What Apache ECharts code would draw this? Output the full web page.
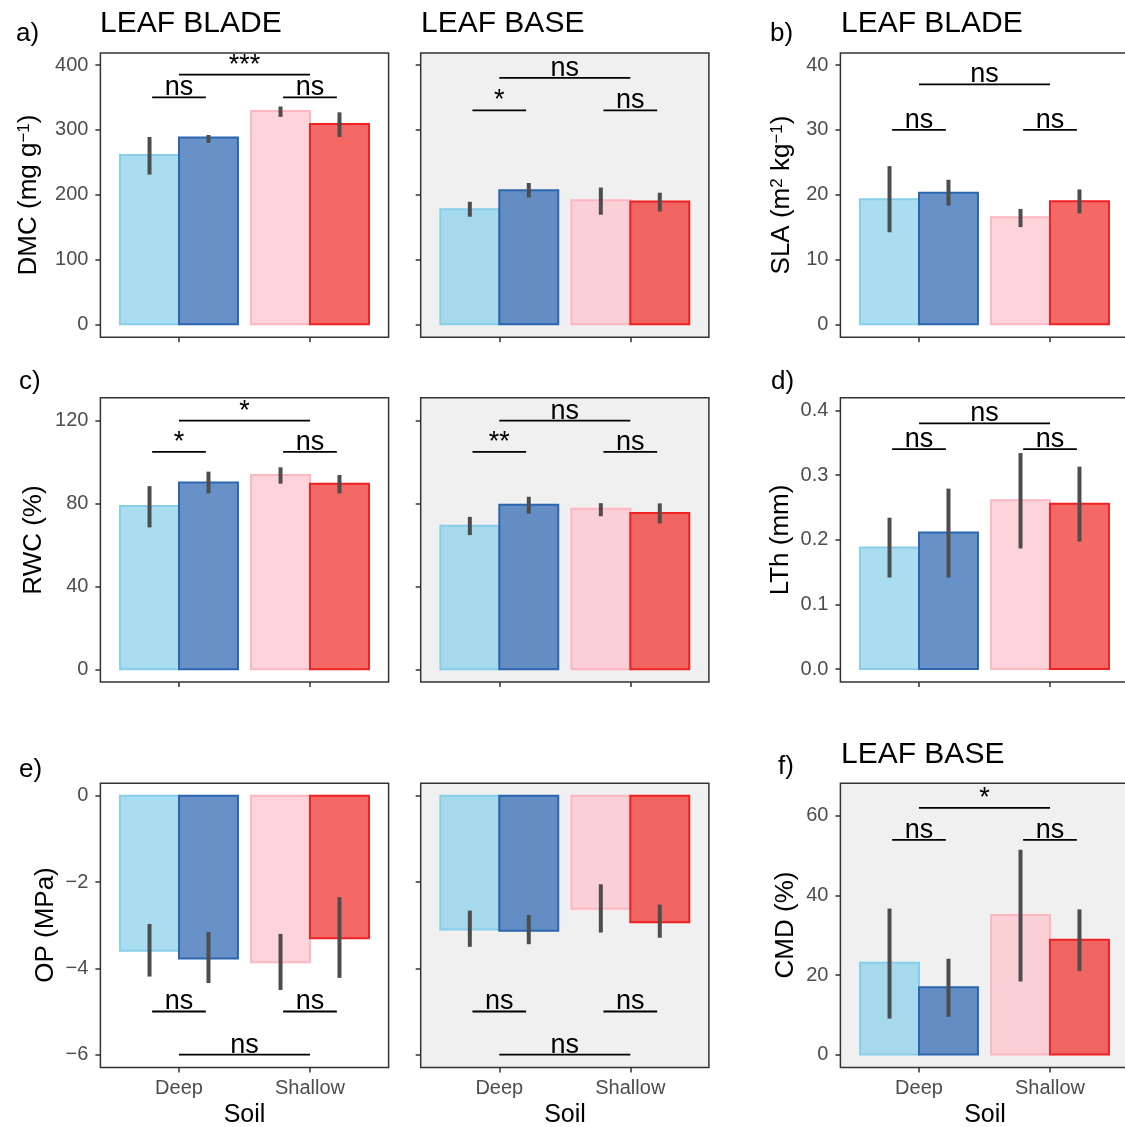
<!DOCTYPE html>
<html>
<head>
<meta charset="utf-8">
<script src="https://cdn.jsdelivr.net/npm/echarts@6/dist/echarts.min.js"></script>
<style>
  html, body { margin: 0; padding: 0; background: #fff; overflow: hidden; }
  #main { width: 1135px; height: 1127px; }
</style>
</head>
<body>
<div id="main"></div>
<script>
// bar order in every panel: Deep light, Deep dark, Shallow light, Shallow dark
var soils = ['Deep', 'Shallow'];

var dmcBladeMean = [261, 288, 329, 309];
var dmcBladeLow  = [231, 280, 320, 289];
var dmcBladeHigh = [289, 292, 336, 327];
var dmcBladeSig  = ['ns', 'ns', '***'];
var dmcBladeSigY = [350, 385];

var dmcBaseMean = [177.6, 207, 191.5, 189.5];
var dmcBaseLow  = [166, 195.5, 169, 174];
var dmcBaseHigh = [189, 218, 211, 203];
var dmcBaseSig  = ['*', 'ns', 'ns'];
var dmcBaseSigY = [330, 380];

var slaMean = [19.3, 20.3, 16.5, 19.0];
var slaLow  = [14.2, 18.3, 15.0, 17.1];
var slaHigh = [24.4, 22.3, 17.8, 20.8];
var slaSig  = ['ns', 'ns', 'ns'];
var slaSigY = [30, 37];

var rwcBladeMean = [78.8, 90.2, 93.8, 89.6];
var rwcBladeLow  = [68.5, 84.9, 89.6, 84.9];
var rwcBladeHigh = [88.4, 95.4, 97.5, 93.8];
var rwcBladeSig  = ['*', 'ns', '*'];
var rwcBladeSigY = [105, 120];

var rwcBaseMean = [69.3, 79.4, 77.5, 75.4];
var rwcBaseLow  = [64.8, 75.1, 73.9, 70.4];
var rwcBaseHigh = [73.6, 83.3, 80.2, 80.1];
var rwcBaseSig  = ['**', 'ns', 'ns'];
var rwcBaseSigY = [105, 120];

var lthMean = [0.188, 0.211, 0.261, 0.2555];
var lthLow  = [0.1415, 0.1415, 0.1864, 0.197];
var lthHigh = [0.234, 0.279, 0.334, 0.313];
var lthSig  = ['ns', 'ns', 'ns'];
var lthSigY = [0.34, 0.38];

var opBladeMean = [-3.59, -3.77, -3.86, -3.30];
var opBladeLow  = [-4.19, -4.34, -4.50, -4.22];
var opBladeHigh = [-2.97, -3.16, -3.20, -2.35];
var opBladeSig  = ['ns', 'ns', 'ns'];
var opBladeSigY = [-5, -6];

var opBaseMean = [-3.10, -3.13, -2.62, -2.93];
var opBaseLow  = [-3.50, -3.44, -3.17, -3.29];
var opBaseHigh = [-2.66, -2.76, -2.05, -2.52];
var opBaseSig  = ['ns', 'ns', 'ns'];
var opBaseSigY = [-5, -6];

var cmdMean = [23.1, 16.9, 35.1, 28.9];
var cmdLow  = [9.05, 9.5, 18.4, 21.0];
var cmdHigh = [36.7, 24.1, 51.5, 36.5];
var cmdSig  = ['ns', 'ns', '*'];
var cmdSigY = [54, 62];

var dmcTicks = [0, 100, 200, 300, 400];
var slaTicks = [0, 10, 20, 30, 40];
var rwcTicks = [0, 40, 80, 120];
var lthTicks = [0, 0.1, 0.2, 0.3, 0.4];
var opTicks  = [-6, -4, -2, 0];
var cmdTicks = [0, 20, 40, 60];

var FONT = 'Liberation Sans, Arial, Helvetica, sans-serif';
var fills   = ['rgba(135,206,235,0.7)', 'rgba(40,100,175,0.7)', 'rgba(255,192,203,0.7)', 'rgba(240,40,35,0.7)'];
var strokes = ['#87CEEB', '#2B66B0', '#FFB6C1', '#EE2222'];

var colLeft = [100.4, 420.7, 840.4];
var rowTop  = [53, 397.7, 783.3];
var panelW = 288.2, panelH = 284.3;

var panels = [
  { row: 0, col: 0, mean: dmcBladeMean, lo: dmcBladeLow, hi: dmcBladeHigh, sig: dmcBladeSig, sigY: dmcBladeSigY, range: [-20, 418.5], ticks: dmcTicks, grey: false },
  { row: 0, col: 1, mean: dmcBaseMean, lo: dmcBaseLow, hi: dmcBaseHigh, sig: dmcBaseSig, sigY: dmcBaseSigY, range: [-20, 418.5], ticks: dmcTicks, grey: true },
  { row: 0, col: 2, mean: slaMean, lo: slaLow, hi: slaHigh, sig: slaSig, sigY: slaSigY, range: [-2, 41.85], ticks: slaTicks, grey: false },
  { row: 1, col: 0, mean: rwcBladeMean, lo: rwcBladeLow, hi: rwcBladeHigh, sig: rwcBladeSig, sigY: rwcBladeSigY, range: [-6.1, 131.1], ticks: rwcTicks, grey: false },
  { row: 1, col: 1, mean: rwcBaseMean, lo: rwcBaseLow, hi: rwcBaseHigh, sig: rwcBaseSig, sigY: rwcBaseSigY, range: [-6.1, 131.1], ticks: rwcTicks, grey: true },
  { row: 1, col: 2, mean: lthMean, lo: lthLow, hi: lthHigh, sig: lthSig, sigY: lthSigY, range: [-0.0201, 0.4196], ticks: lthTicks, grey: false, fmt: 1 },
  { row: 2, col: 0, mean: opBladeMean, lo: opBladeLow, hi: opBladeHigh, sig: opBladeSig, sigY: opBladeSigY, range: [-6.3, 0.29], ticks: opTicks, grey: false },
  { row: 2, col: 1, mean: opBaseMean, lo: opBaseLow, hi: opBaseHigh, sig: opBaseSig, sigY: opBaseSigY, range: [-6.3, 0.29], ticks: opTicks, grey: true },
  { row: 2, col: 2, mean: cmdMean, lo: cmdLow, hi: cmdHigh, sig: cmdSig, sigY: cmdSigY, range: [-3.27, 68.2], ticks: cmdTicks, grey: true }
];

function barX(i) {
  return Math.floor(i / 2) + 1 + (i % 2 ? 0.225 : -0.225);
}

function renderBar(params, api) {
  var i = api.value(0);
  var x = barX(i);
  var p0 = api.coord([x - 0.225, 0]);
  var p1 = api.coord([x + 0.225, api.value(1)]);
  return {
    type: 'rect',
    shape: { x: p0[0], y: Math.min(p0[1], p1[1]), width: p1[0] - p0[0], height: Math.abs(p1[1] - p0[1]) },
    style: { fill: fills[i], stroke: strokes[i], lineWidth: 2 }
  };
}

function renderErr(params, api) {
  var x = barX(api.value(0));
  var a = api.coord([x, api.value(1)]);
  var b = api.coord([x, api.value(2)]);
  return {
    type: 'line',
    shape: { x1: a[0], y1: a[1], x2: b[0], y2: b[1] },
    style: { stroke: '#4D4D4D', lineWidth: 4 }
  };
}

function makeSigRender(labels) {
  return function (params, api) {
    var a = api.coord([api.value(0), api.value(2)]);
    var b = api.coord([api.value(1), api.value(2)]);
    return {
      type: 'group',
      children: [
        { type: 'line', shape: { x1: a[0], y1: a[1], x2: b[0], y2: b[1] }, style: { stroke: '#000', lineWidth: 1.8 } },
        { type: 'text', style: { text: labels[params.dataIndex], x: (a[0] + b[0]) / 2, y: a[1] + 4, align: 'center', verticalAlign: 'bottom', fontSize: 27, fontFamily: FONT, fill: '#000' } }
      ]
    };
  };
}

var grids = [], xAxes = [], yAxes = [], series = [];

panels.forEach(function (p, k) {
  grids.push({
    left: colLeft[p.col], top: rowTop[p.row], width: panelW, height: panelH,
    show: true, borderColor: '#333', borderWidth: 1.5,
    backgroundColor: p.grey ? '#F0F0F0' : '#FFFFFF'
  });
  xAxes.push({
    gridIndex: k, type: 'value', min: 0.4, max: 2.6, position: 'bottom',
    axisLine: { show: false, onZero: false }, splitLine: { show: false },
    axisTick: { show: true, customValues: [1, 2], length: 5, lineStyle: { color: '#333', width: 1.5 } },
    axisLabel: {
      show: p.row === 2, customValues: [1, 2], margin: 11,
      fontSize: 20, color: '#4D4D4D', fontFamily: FONT,
      formatter: function (v) { return soils[Math.round(v) - 1]; }
    }
  });
  yAxes.push({
    gridIndex: k, type: 'value', min: p.range[0], max: p.range[1], position: 'left',
    axisLine: { show: false, onZero: false }, splitLine: { show: false },
    axisTick: { show: true, customValues: p.ticks, length: 5, lineStyle: { color: '#333', width: 1.5 } },
    axisLabel: {
      show: p.col !== 1, customValues: p.ticks, margin: 12,
      fontSize: 20, color: '#4D4D4D', fontFamily: FONT,
      formatter: function (v) { return (p.fmt ? v.toFixed(p.fmt) : String(v)).replace('-', '\u2212'); }
    }
  });
  var barData = p.mean.map(function (v, i) { return [i, v]; });
  var errData = p.mean.map(function (v, i) { return [i, p.lo[i], p.hi[i]]; });
  var sigData = [[0.795, 1.205, p.sigY[0]], [1.795, 2.205, p.sigY[0]], [1, 2, p.sigY[1]]];
  series.push({ type: 'custom', xAxisIndex: k, yAxisIndex: k, renderItem: renderBar, data: barData, silent: true });
  series.push({ type: 'custom', xAxisIndex: k, yAxisIndex: k, renderItem: renderErr, data: errData, silent: true });
  series.push({ type: 'custom', xAxisIndex: k, yAxisIndex: k, renderItem: makeSigRender(p.sig), data: sigData, silent: true });
});

function txt(x, y, s, size, extra) {
  var o = { type: 'text', x: x, y: y, style: { text: s, fontSize: size, fontFamily: FONT, fill: '#000', align: 'left', verticalAlign: 'middle' } };
  if (extra) { for (var key in extra) o.style[key] = extra[key]; }
  return o;
}

function yTitle(x, y, s) {
  return {
    type: 'text', x: x, y: y, rotation: Math.PI / 2,
    style: {
      text: s, align: 'center', verticalAlign: 'middle', fill: '#000',
      rich: {
        m: { fontSize: 26, fontFamily: FONT, fill: '#000' },
        s: { fontSize: 17, fontFamily: FONT, fill: '#000', verticalAlign: 'top' }
      }
    }
  };
}

var graphics = [
  txt(16, 34, 'a)', 26), txt(100, 24, 'LEAF BLADE', 30), txt(421, 24, 'LEAF BASE', 30),
  txt(770, 34, 'b)', 26), txt(841, 24, 'LEAF BLADE', 30),
  txt(19, 382, 'c)', 26), txt(771, 382, 'd)', 26),
  txt(19, 770, 'e)', 26), txt(778, 767, 'f)', 26), txt(841, 755, 'LEAF BASE', 30),
  yTitle(29, 195, '{m|DMC (mg g}{s|\u22121}{m|)}'),
  yTitle(34, 540, '{m|RWC (%)}'),
  yTitle(46, 925, '{m|OP (MPa)}'),
  yTitle(782, 195, '{m|SLA (m}{s|2}{m| kg}{s|\u22121}{m|)}'),
  yTitle(781, 540, '{m|LTh (mm)}'),
  yTitle(786, 925, '{m|CMD (%)}'),
  txt(244.5, 1115, 'Soil', 25, { align: 'center' }),
  txt(565, 1115, 'Soil', 25, { align: 'center' }),
  txt(985, 1115, 'Soil', 25, { align: 'center' })
];

var myChart = echarts.init(document.getElementById('main'), null, { renderer: 'canvas' });
myChart.setOption({
  animation: false,
  backgroundColor: '#fff',
  grid: grids,
  xAxis: xAxes,
  yAxis: yAxes,
  series: series,
  graphic: graphics
});
</script>
</body>
</html>
